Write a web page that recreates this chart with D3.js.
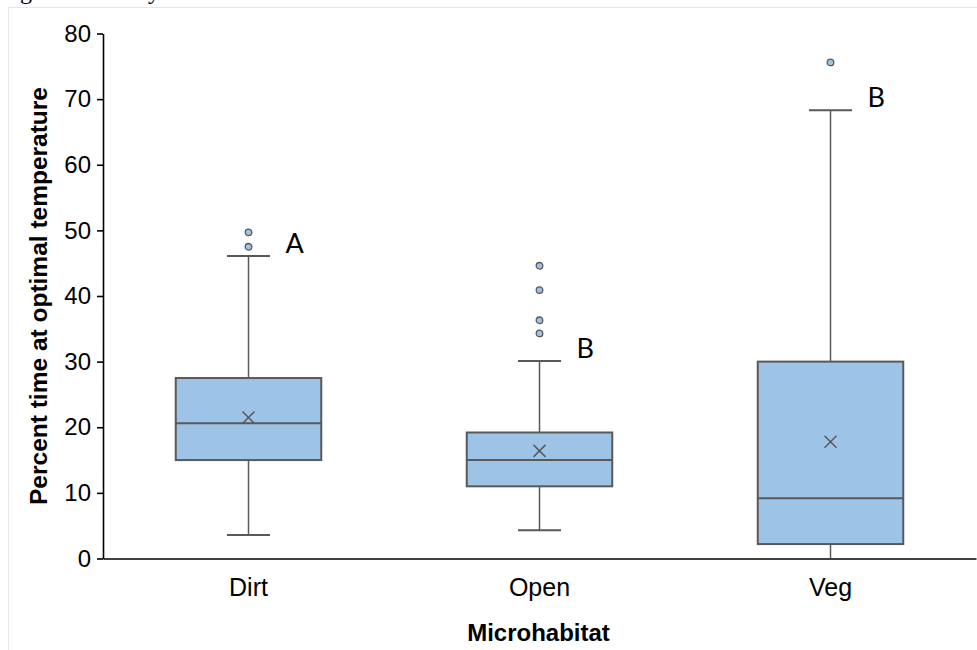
<!DOCTYPE html>
<html>
<head>
<meta charset="utf-8">
<script src="https://cdn.jsdelivr.net/npm/d3@7"></script>
<style>
  html, body { margin: 0; padding: 0; background: #fff; }
  svg { display: block; }
</style>
</head>
<body>
<svg id="chart" width="977" height="650"></svg>
<script>
// ---- data ----
const categories = ["Dirt", "Open", "Veg"];
const whiskerLow  = [3.6, 4.3, 0.0];
const q1          = [15.0, 11.0, 2.2];
const median      = [20.6, 15.0, 9.2];
const q3          = [27.5, 19.2, 30.0];
const whiskerHigh = [46.1, 30.1, 68.3];
const mean        = [21.5, 16.4, 17.8];
const outliers    = [[47.5, 49.7], [34.3, 36.3, 40.9, 44.6], [75.6]];
const groupLetters = ["A", "B", "B"];
const yTicks = [0, 10, 20, 30, 40, 50, 60, 70, 80];
const yTitle = "Percent time at optimal temperature";
const xTitle = "Microhabitat";

(function () {
const svg = d3.select("#chart");
const W = 977, H = 650;

// page frame and cut-off text fragments
svg.append("line").attr("x1", 8.5).attr("x2", 8.5).attr("y1", 7).attr("y2", H)
  .attr("stroke", "#e6e6e6").attr("stroke-width", 1);
svg.append("line").attr("x1", 8).attr("x2", W).attr("y1", 7.5).attr("y2", 7.5)
  .attr("stroke", "#e6e6e6").attr("stroke-width", 1);
const frag = svg.append("text").attr("y", -1)
  .attr("font-family", "Liberation Serif").attr("font-size", 24).attr("fill", "#000");
frag.append("tspan").attr("x", 20).text("g");
frag.append("tspan").attr("x", 148).text("y");

const mLeft = 103, mRight = 976, mTop = 33.5, mBottom = 558.5;
const x = d3.scaleBand().domain(categories).range([mLeft, mRight]).paddingInner(0).paddingOuter(0);
const y = d3.scaleLinear().domain([0, 80]).range([mBottom, mTop]);

const boxW = x.bandwidth() * 0.5;
const capW = x.bandwidth() * 0.148;
const grey = "#595959";
const fill = "#9dc3e6";

// y axis
const yAxis = svg.append("g").attr("transform", `translate(${mLeft},0)`)
  .call(d3.axisLeft(y).tickValues(yTicks).tickSize(6).tickPadding(6).tickSizeOuter(0));
yAxis.select(".domain").attr("stroke", "#000").attr("stroke-width", 1.6);
yAxis.selectAll(".tick line").attr("stroke", "#000").attr("stroke-width", 1.6);
yAxis.selectAll(".tick text").attr("font-family", "Liberation Sans, Arial, sans-serif")
  .attr("font-size", 24).attr("fill", "#000");

// x axis
const xAxis = svg.append("g").attr("transform", `translate(0,${mBottom})`)
  .call(d3.axisBottom(x).tickSize(0).tickPadding(20).tickSizeOuter(0));
xAxis.select(".domain").attr("stroke", "#000").attr("stroke-width", 1.6);
xAxis.selectAll(".tick text").attr("font-family", "Liberation Sans, Arial, sans-serif")
  .attr("font-size", 25).attr("fill", "#000");

// boxes
const data = categories.map((c, i) => ({
  c, lo: whiskerLow[i], q1: q1[i], med: median[i], q3: q3[i], hi: whiskerHigh[i],
  mean: mean[i], out: outliers[i], letter: groupLetters[i]
}));

const g = svg.append("g").selectAll("g").data(data).join("g")
  .attr("transform", d => `translate(${x(d.c) + x.bandwidth() / 2},0)`);

// whiskers
g.append("line").attr("x1", 0).attr("x2", 0)
  .attr("y1", d => y(d.q3)).attr("y2", d => y(d.hi))
  .attr("stroke", grey).attr("stroke-width", 1.5);
g.append("line").attr("x1", 0).attr("x2", 0)
  .attr("y1", d => y(d.q1)).attr("y2", d => y(d.lo))
  .attr("stroke", grey).attr("stroke-width", 1.5);
// caps
g.filter(d => d.hi > d.q3).append("line").attr("x1", -capW / 2).attr("x2", capW / 2)
  .attr("y1", d => y(d.hi)).attr("y2", d => y(d.hi))
  .attr("stroke", grey).attr("stroke-width", 2);
g.filter(d => d.lo > 0).append("line").attr("x1", -capW / 2).attr("x2", capW / 2)
  .attr("y1", d => y(d.lo)).attr("y2", d => y(d.lo))
  .attr("stroke", grey).attr("stroke-width", 2);

// box
g.append("rect").attr("x", -boxW / 2).attr("width", boxW)
  .attr("y", d => y(d.q3)).attr("height", d => y(d.q1) - y(d.q3))
  .attr("fill", fill).attr("stroke", grey).attr("stroke-width", 2);
// median
g.append("line").attr("x1", -boxW / 2).attr("x2", boxW / 2)
  .attr("y1", d => y(d.med)).attr("y2", d => y(d.med))
  .attr("stroke", grey).attr("stroke-width", 2);
// mean marker (x)
const ms = 6;
g.append("path")
  .attr("d", d => { const cy = y(d.mean); return `M${-ms},${cy - ms}L${ms},${cy + ms}M${-ms},${cy + ms}L${ms},${cy - ms}`; })
  .attr("stroke", grey).attr("stroke-width", 1.5).attr("fill", "none");

// outliers
g.selectAll("circle").data(d => d.out).join("circle")
  .attr("cx", 0).attr("cy", v => y(v)).attr("r", 3.3)
  .attr("fill", fill).attr("stroke", grey).attr("stroke-width", 1.3);

// group letters
g.append("text").attr("x", 37).attr("y", d => y(d.hi) - 3)
  .attr("font-family", "Lato, 'Open Sans', sans-serif").attr("font-size", 27).attr("fill", "#000")
  .text(d => d.letter);

// titles
svg.append("text").attr("x", (mLeft + mRight) / 2 - 1).attr("y", 641)
  .attr("text-anchor", "middle").attr("font-family", "Liberation Sans, Arial, sans-serif")
  .attr("font-weight", "bold").attr("font-size", 24).attr("fill", "#000").text(xTitle);
svg.append("text").attr("transform", `translate(47,${(mTop + mBottom) / 2}) rotate(-90)`)
  .attr("text-anchor", "middle").attr("font-family", "Liberation Sans, Arial, sans-serif")
  .attr("font-weight", "bold").attr("font-size", 24.5).attr("fill", "#000").text(yTitle);
})();
</script>
</body>
</html>
